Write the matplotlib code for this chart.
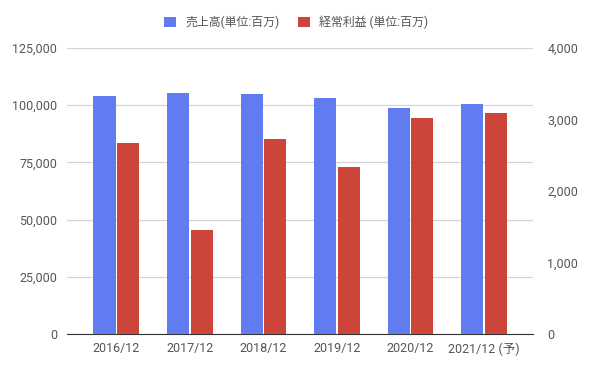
import numpy as np
import matplotlib.pyplot as plt

plt.rcParams['font.family'] = ['Roboto', 'Noto Sans CJK JP', 'DejaVu Sans']

# data
years = ['2016/12', '2017/12', '2018/12', '2019/12', '2020/12', '2021/12 (予)']
sales = [104000, 105300, 104900, 103000, 98600, 100400]
profit = [2667, 1455, 2727, 2331, 3016, 3087]
sales_label = '売上高(単位:百万)'
profit_label = '経常利益 (単位:百万)'

blue = '#617cf0'
red = '#cc443a'
txt = '#555555'

fig = plt.figure(figsize=(5.96, 3.69), dpi=100)
ax = fig.add_axes([0.1124, 0.0949, 0.7824, 0.775])
ax2 = ax.twinx()

x = np.arange(len(years))
w = 0.30
b1 = ax.bar(x - 0.16, sales, w, color=blue, label=sales_label, zorder=3)
b2 = ax2.bar(x + 0.16, profit, w, color=red, label=profit_label, zorder=3)

ax.set_xlim(-0.67, 5.67)
ax.set_ylim(0, 125000)
ax2.set_ylim(0, 4000)
ax.set_yticks(np.arange(0, 125001, 25000))
ax2.set_yticks(np.arange(0, 4001, 1000))
ax.yaxis.set_major_formatter(plt.FuncFormatter(lambda v, p: f'{int(v):,}'))
ax2.yaxis.set_major_formatter(plt.FuncFormatter(lambda v, p: f'{int(v):,}'))
ax.set_xticks(x)
ax.set_xticklabels(years)

ax.grid(axis='y', color='#d4d4d4', linewidth=0.9, zorder=0)
ax.set_axisbelow(True)
for a in (ax, ax2):
    for s in ('top', 'left', 'right'):
        a.spines[s].set_visible(False)
    a.spines['bottom'].set_color('#333333')
    a.tick_params(length=0, labelsize=9, colors=txt)
ax2.spines['bottom'].set_visible(False)
ax.tick_params(axis='y', pad=7)
ax2.tick_params(axis='y', pad=10)
ax.tick_params(axis='x', pad=6)

fig.legend(handles=[b1, b2], loc='center', bbox_to_anchor=(0.497, 0.94), ncol=2,
           frameon=False, fontsize=8.6, labelcolor=txt, handlelength=0.95,
           handleheight=0.95, columnspacing=1.6, handletextpad=0.8)

fig.savefig('out.png', dpi=100)
